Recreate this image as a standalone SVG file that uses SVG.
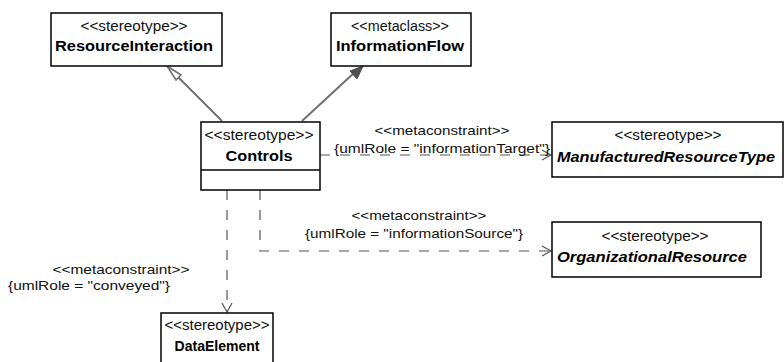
<svg xmlns="http://www.w3.org/2000/svg" width="784" height="362" viewBox="0 0 784 362">
<defs>
<style>
.box{fill:#fff;stroke:#000;stroke-width:1.5}
.st{font-family:"Liberation Sans",Arial,sans-serif;font-size:14px;fill:#111;text-anchor:middle}
.nm{font-family:"Liberation Sans",Arial,sans-serif;font-size:14px;font-weight:bold;fill:#000;text-anchor:middle}
.it{font-style:italic}
.lb{font-family:"Liberation Sans",Arial,sans-serif;font-size:13px;fill:#111;text-anchor:middle}
.solid{fill:none;stroke:#707070;stroke-width:2}
.dash{fill:none;stroke:#555;stroke-width:1.2;stroke-dasharray:10 10}
.open{fill:none;stroke:#555;stroke-width:1.2}
</style>
</defs>
<rect width="784" height="362" fill="#fff"/>
<g id="connectors">
<line class="solid" x1="222" y1="121" x2="172" y2="71"/>
<polygon points="167,66 176,80 181,75" fill="#fff" stroke="#707070" stroke-width="1.5"/>
<line class="solid" x1="302" y1="121" x2="355" y2="72"/>
<polygon points="363,66 350,71 357,79" fill="#505050" stroke="#505050" stroke-width="1"/>
<line class="dash" x1="320" y1="155" x2="551" y2="155"/>
<polyline class="open" points="542,150 551,155 542,160"/>
<polyline class="dash" points="260,190 260,251 551,251"/>
<polyline class="open" points="542,246 551,251 542,256"/>
<line class="dash" x1="227" y1="190" x2="227" y2="312"/>
<polyline class="open" points="222,303 227,312 232,303"/>
</g>
<g id="labels">
<text class="lb" x="442" y="135" textLength="135" lengthAdjust="spacingAndGlyphs">&lt;&lt;metaconstraint&gt;&gt;</text>
<text class="lb" x="442" y="153" textLength="216" lengthAdjust="spacingAndGlyphs">{umlRole = "informationTarget"}</text>
<text class="lb" x="419" y="220" textLength="135" lengthAdjust="spacingAndGlyphs">&lt;&lt;metaconstraint&gt;&gt;</text>
<text class="lb" x="414" y="238" textLength="218" lengthAdjust="spacingAndGlyphs">{umlRole = "informationSource"}</text>
<text class="lb" x="121" y="274" textLength="137" lengthAdjust="spacingAndGlyphs">&lt;&lt;metaconstraint&gt;&gt;</text>
<text class="lb" x="89" y="290" textLength="162" lengthAdjust="spacingAndGlyphs">{umlRole = "conveyed"}</text>
</g>
<g id="ResourceInteraction">
<rect class="box" x="51" y="13" width="171" height="53"/>
<text class="st" x="134" y="31" textLength="107" lengthAdjust="spacingAndGlyphs">&lt;&lt;stereotype&gt;&gt;</text>
<text class="nm" x="134" y="51" textLength="158" lengthAdjust="spacingAndGlyphs">ResourceInteraction</text>
</g>
<g id="InformationFlow">
<rect class="box" x="331" y="13" width="140" height="53"/>
<text class="st" x="400" y="31" textLength="98" lengthAdjust="spacingAndGlyphs">&lt;&lt;metaclass&gt;&gt;</text>
<text class="nm" x="400" y="51" textLength="128" lengthAdjust="spacingAndGlyphs">InformationFlow</text>
</g>
<g id="Controls">
<rect class="box" x="201" y="122" width="119" height="68"/>
<line x1="201" y1="170" x2="320" y2="170" stroke="#000" stroke-width="1.5"/>
<text class="st" x="259" y="140" textLength="109" lengthAdjust="spacingAndGlyphs">&lt;&lt;stereotype&gt;&gt;</text>
<text class="nm" x="259" y="161" textLength="67" lengthAdjust="spacingAndGlyphs">Controls</text>
</g>
<g id="ManufacturedResourceType">
<rect class="box" x="552" y="122" width="231" height="55"/>
<text class="st" x="668" y="140" textLength="107" lengthAdjust="spacingAndGlyphs">&lt;&lt;stereotype&gt;&gt;</text>
<text class="nm it" x="666" y="162" textLength="218" lengthAdjust="spacingAndGlyphs">ManufacturedResourceType</text>
</g>
<g id="OrganizationalResource">
<rect class="box" x="552" y="222" width="209" height="55"/>
<text class="st" x="655" y="241" textLength="107" lengthAdjust="spacingAndGlyphs">&lt;&lt;stereotype&gt;&gt;</text>
<text class="nm it" x="652" y="262" textLength="190" lengthAdjust="spacingAndGlyphs">OrganizationalResource</text>
</g>
<g id="DataElement">
<rect class="box" x="161" y="313" width="112" height="60"/>
<text class="st" x="217" y="330" textLength="105" lengthAdjust="spacingAndGlyphs">&lt;&lt;stereotype&gt;&gt;</text>
<text class="nm" x="217" y="351">DataElement</text>
</g>
</svg>
